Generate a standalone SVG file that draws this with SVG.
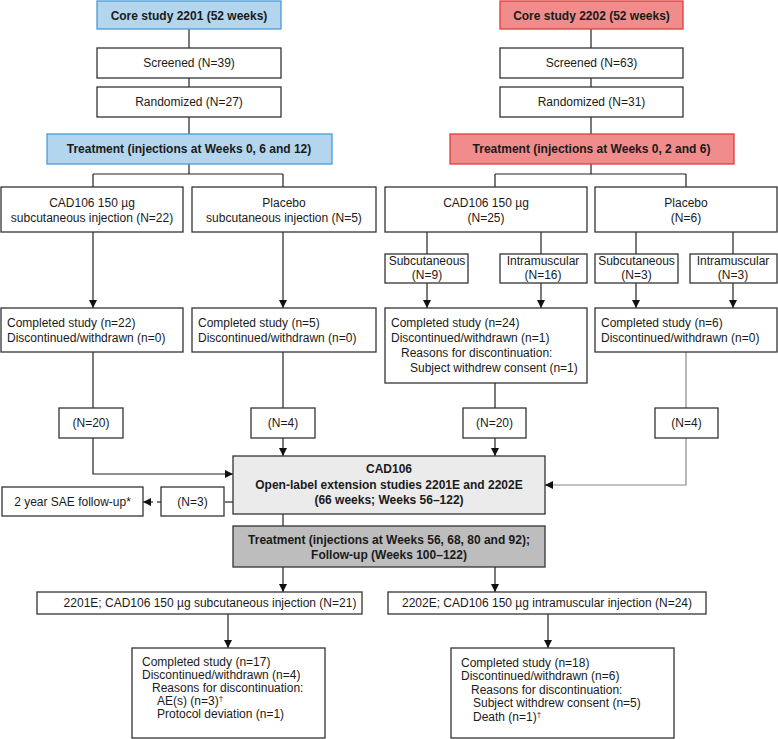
<svg xmlns="http://www.w3.org/2000/svg" width="778" height="739" viewBox="0 0 778 739">
<style>
text{font-family:"Liberation Sans",Arial,sans-serif;font-size:12px;fill:#1a1a1a}
.b{font-weight:bold}
.c{text-anchor:middle}
.box{fill:#fff;stroke:#333;stroke-width:1.3}
.blue{fill:#b3d6ee;stroke:#4a9ad4;stroke-width:1.3}
.red{fill:#f08c8c;stroke:#e03c3c;stroke-width:1.3}
.ole{fill:#ebebeb;stroke:#333;stroke-width:1.3}
.gray{fill:#bdbdbd;stroke:#333;stroke-width:1.3}
.ln{fill:none;stroke:#222;stroke-width:1.2}
.ar{fill:none;stroke:#222;stroke-width:1.2;marker-end:url(#ah)}
.gl{fill:none;stroke:#888;stroke-width:1.2}
.ds{fill:none;stroke:#222;stroke-width:1.2;stroke-dasharray:4 5}
</style>
<defs>
<marker id="ah" viewBox="0 0 10 10" refX="10" refY="5" markerWidth="8" markerHeight="8" markerUnits="userSpaceOnUse" orient="auto">
<path d="M0,0 L10,5 L0,10 z" fill="#111"/>
</marker>
</defs>
<rect width="778" height="739" fill="#fff"/>

<g id="connectors">
<path class="ln" d="M189,29V48 M189,78V87 M189,117V134 M189,164V174 M93,174H283 M93,174V187 M283,174V187"/>
<path class="ln" d="M591,29V48 M591,78V87 M591,117V134 M591,164V174 M495,174H686 M495,174V187 M686,174V187"/>
<path class="ar" d="M93,232V308"/>
<path class="ar" d="M283,232V308"/>
<path class="ln" d="M427,232V254 M541,232V254 M636,232V254 M733,232V254"/>
<path class="ar" d="M427,283V308"/>
<path class="ar" d="M541,283V308"/>
<path class="ar" d="M636,283V308"/>
<path class="ar" d="M733,283V308"/>
<path class="ln" d="M93,352V408 M283,352V408 M495,383V408"/>
<path class="gl" d="M686,352V408"/>
<path class="ar" d="M93,438V474H233"/>
<path class="ar" d="M283,438V456"/>
<path class="ar" d="M495,438V456"/>
<path class="gl" d="M686,438V485H552"/>
<path class="ar" d="M553,485H545"/>
<path class="ln" d="M233,502H225"/>
<path class="ds" d="M161,502H153"/>
<path class="ar" d="M153,502H143"/>
<path class="ln" d="M283,514V526"/>
<path class="ar" d="M283,567V592"/>
<path class="ar" d="M495,567V592"/>
<path class="ar" d="M228,614V648"/>
<path class="ar" d="M548,614V648"/>
</g>

<g id="core2201"><rect class="blue" x="97" y="1" width="184" height="28"/><text class="b c" x="189" y="19.5">Core study 2201 (52 weeks)</text></g>
<g id="screened2201"><rect class="box" x="97" y="48" width="184" height="30"/><text class="c" x="189" y="67">Screened (N=39)</text></g>
<g id="rand2201"><rect class="box" x="97" y="87" width="184" height="30"/><text class="c" x="189" y="106">Randomized (N=27)</text></g>
<g id="treat2201"><rect class="blue" x="47" y="134" width="285" height="30"/><text class="b c" x="189" y="153">Treatment (injections at Weeks 0, 6 and 12)</text></g>

<g id="core2202"><rect class="red" x="500" y="1" width="183" height="28"/><text class="b c" x="591.5" y="19.5">Core study 2202 (52 weeks)</text></g>
<g id="screened2202"><rect class="box" x="500" y="48" width="183" height="30"/><text class="c" x="591.5" y="67">Screened (N=63)</text></g>
<g id="rand2202"><rect class="box" x="500" y="87" width="183" height="30"/><text class="c" x="591.5" y="106">Randomized (N=31)</text></g>
<g id="treat2202"><rect class="red" x="450" y="134" width="284" height="30"/><text class="b c" x="591.5" y="153">Treatment (injections at Weeks 0, 2 and 6)</text></g>

<g id="cad2201"><rect class="box" x="1" y="187" width="182" height="45"/><text class="c" x="92" y="207">CAD106 150 µg</text><text class="c" x="92" y="222">subcutaneous injection (N=22)</text></g>
<g id="pla2201"><rect class="box" x="192" y="187" width="184" height="45"/><text class="c" x="284" y="207">Placebo</text><text class="c" x="284" y="222">subcutaneous injection (N=5)</text></g>
<g id="cad2202"><rect class="box" x="385" y="187" width="202" height="45"/><text class="c" x="486" y="207">CAD106 150 µg</text><text class="c" x="486" y="222">(N=25)</text></g>
<g id="pla2202"><rect class="box" x="595" y="187" width="182" height="45"/><text class="c" x="686" y="207">Placebo</text><text class="c" x="686" y="222">(N=6)</text></g>

<g id="cadsc"><rect class="box" x="385" y="254" width="83" height="29"/><text class="c" x="427" y="265">Subcutaneous</text><text class="c" x="427" y="279">(N=9)</text></g>
<g id="cadim"><rect class="box" x="500" y="254" width="87" height="29"/><text class="c" x="543" y="265">Intramuscular</text><text class="c" x="543" y="279">(N=16)</text></g>
<g id="plasc"><rect class="box" x="595" y="254" width="83" height="29"/><text class="c" x="636.5" y="265">Subcutaneous</text><text class="c" x="636.5" y="279">(N=3)</text></g>
<g id="plaim"><rect class="box" x="690" y="254" width="87" height="29"/><text class="c" x="733" y="265">Intramuscular</text><text class="c" x="733" y="279">(N=3)</text></g>

<g id="comp1"><rect class="box" x="1" y="308" width="182" height="44"/><text x="7" y="327">Completed study (n=22)</text><text x="7" y="342">Discontinued/withdrawn (n=0)</text></g>
<g id="comp2"><rect class="box" x="192" y="308" width="184" height="44"/><text x="198" y="327">Completed study (n=5)</text><text x="198" y="342">Discontinued/withdrawn (n=0)</text></g>
<g id="comp3"><rect class="box" x="385" y="308" width="202" height="75"/><text x="391" y="327">Completed study (n=24)</text><text x="391" y="342">Discontinued/withdrawn (n=1)</text><text x="401" y="357">Reasons for discontinuation:</text><text x="410" y="372">Subject withdrew consent (n=1)</text></g>
<g id="comp4"><rect class="box" x="595" y="308" width="182" height="44"/><text x="601" y="327">Completed study (n=6)</text><text x="601" y="342">Discontinued/withdrawn (n=0)</text></g>

<g id="n20a"><rect class="box" x="59" y="408" width="64" height="30"/><text class="c" x="91" y="427">(N=20)</text></g>
<g id="n4a"><rect class="box" x="251" y="408" width="64" height="30"/><text class="c" x="283" y="427">(N=4)</text></g>
<g id="n20b"><rect class="box" x="463" y="408" width="63" height="30"/><text class="c" x="494.5" y="427">(N=20)</text></g>
<g id="n4b"><rect class="box" x="655" y="408" width="63" height="30"/><text class="c" x="686.5" y="427">(N=4)</text></g>

<g id="ole"><rect class="ole" x="233" y="456" width="312" height="58"/><text class="b c" x="389" y="473">CAD106</text><text class="b c" x="389" y="489">Open-label extension studies 2201E and 2202E</text><text class="b c" x="389" y="504">(66 weeks; Weeks 56–122)</text></g>
<g id="sae"><rect class="box" x="2" y="487" width="141" height="29"/><text class="c" x="72.5" y="506">2 year SAE follow-up*</text></g>
<g id="n3"><rect class="box" x="161" y="487" width="63" height="29"/><text class="c" x="192.5" y="506">(N=3)</text></g>
<g id="treatole"><rect class="gray" x="233" y="526" width="312" height="41"/><text class="b c" x="389" y="544">Treatment (injections at Weeks 56, 68, 80 and 92);</text><text class="b c" x="389" y="559">Follow-up (Weeks 100–122)</text></g>

<g id="e2201"><rect class="box" x="37" y="592" width="325" height="22"/><text class="c" x="210" y="607">2201E; CAD106 150 µg subcutaneous injection (N=21)</text></g>
<g id="e2202"><rect class="box" x="388" y="592" width="318" height="22"/><text class="c" x="547" y="607">2202E; CAD106 150 µg intramuscular injection (N=24)</text></g>

<g id="comp5"><rect class="box" x="132" y="648" width="193" height="90"/><text x="142" y="666">Completed study (n=17)</text><text x="142" y="679">Discontinued/withdrawn (n=4)</text><text x="152" y="692">Reasons for discontinuation:</text><text x="157" y="705">AE(s) (n=3)<tspan font-size="8" dy="-4">†</tspan></text><text x="157" y="718">Protocol deviation (n=1)</text></g>
<g id="comp6"><rect class="box" x="451" y="648" width="223" height="90"/><text x="461" y="667">Completed study (n=18)</text><text x="461" y="680">Discontinued/withdrawn (n=6)</text><text x="471" y="694">Reasons for discontinuation:</text><text x="473" y="707">Subject withdrew consent (n=5)</text><text x="473" y="721">Death (n=1)<tspan font-size="8" dy="-4">†</tspan></text></g>
</svg>
